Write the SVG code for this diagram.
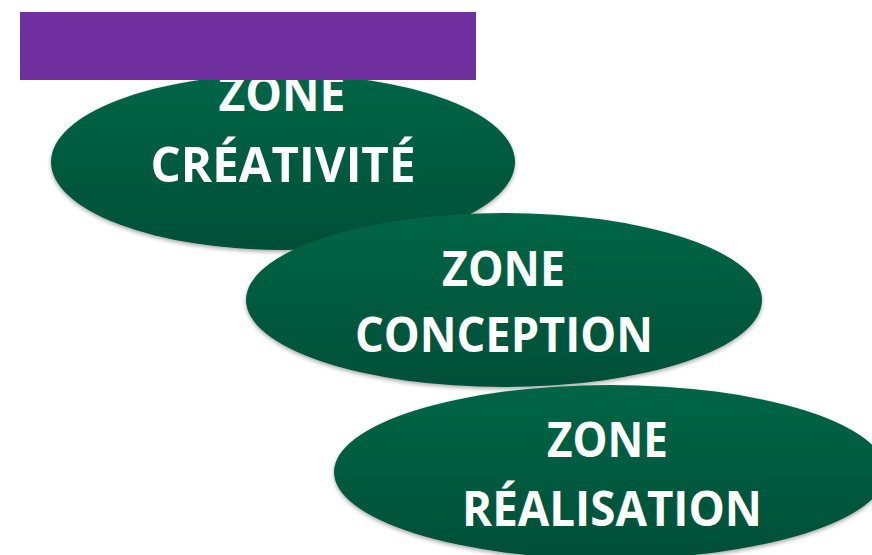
<svg xmlns="http://www.w3.org/2000/svg" width="872" height="555" viewBox="0 0 872 555">
<defs>
<linearGradient id="g" x1="0" y1="0" x2="0" y2="1">
<stop offset="0" stop-color="#036646"/>
<stop offset="1" stop-color="#024f38"/>
</linearGradient>
<filter id="sh" x="-10%" y="-10%" width="120%" height="130%">
<feGaussianBlur in="SourceAlpha" stdDeviation="2"/>
<feOffset dy="2"/>
<feComponentTransfer><feFuncA type="linear" slope="0.35"/></feComponentTransfer>
<feMerge><feMergeNode/><feMergeNode in="SourceGraphic"/></feMerge>
</filter>
</defs>
<style>
.zone{fill:url(#g);filter:url(#sh)}
.t{font-family:"Open Sans","Liberation Sans",sans-serif;font-weight:bold;font-size:49px;fill:#ffffff;text-anchor:middle}
</style>
<rect width="872" height="555" fill="#ffffff"/>
<g id="connectors"/>
<g id="zone-creativite">
<ellipse class="zone" cx="283" cy="162" rx="232" ry="88"/>
<text class="t" x="282" y="111" textLength="127" lengthAdjust="spacingAndGlyphs">ZONE</text>
<text class="t" x="283" y="182" textLength="265" lengthAdjust="spacingAndGlyphs">CRÉATIVITÉ</text>
</g>
<g id="zone-conception">
<ellipse class="zone" cx="504" cy="300" rx="258" ry="87"/>
<text class="t" x="503.5" y="286" textLength="123" lengthAdjust="spacingAndGlyphs">ZONE</text>
<text class="t" x="504" y="352" textLength="298" lengthAdjust="spacingAndGlyphs">CONCEPTION</text>
</g>
<g id="zone-realisation">
<ellipse class="zone" cx="610" cy="472" rx="276" ry="87"/>
<text class="t" x="607.5" y="457" textLength="121" lengthAdjust="spacingAndGlyphs">ZONE</text>
<text class="t" x="612" y="526" textLength="300" lengthAdjust="spacingAndGlyphs">RÉALISATION</text>
</g>
<g id="title-bar">
<rect x="20" y="12" width="456" height="68" fill="#7030a0"/>
</g>
</svg>
